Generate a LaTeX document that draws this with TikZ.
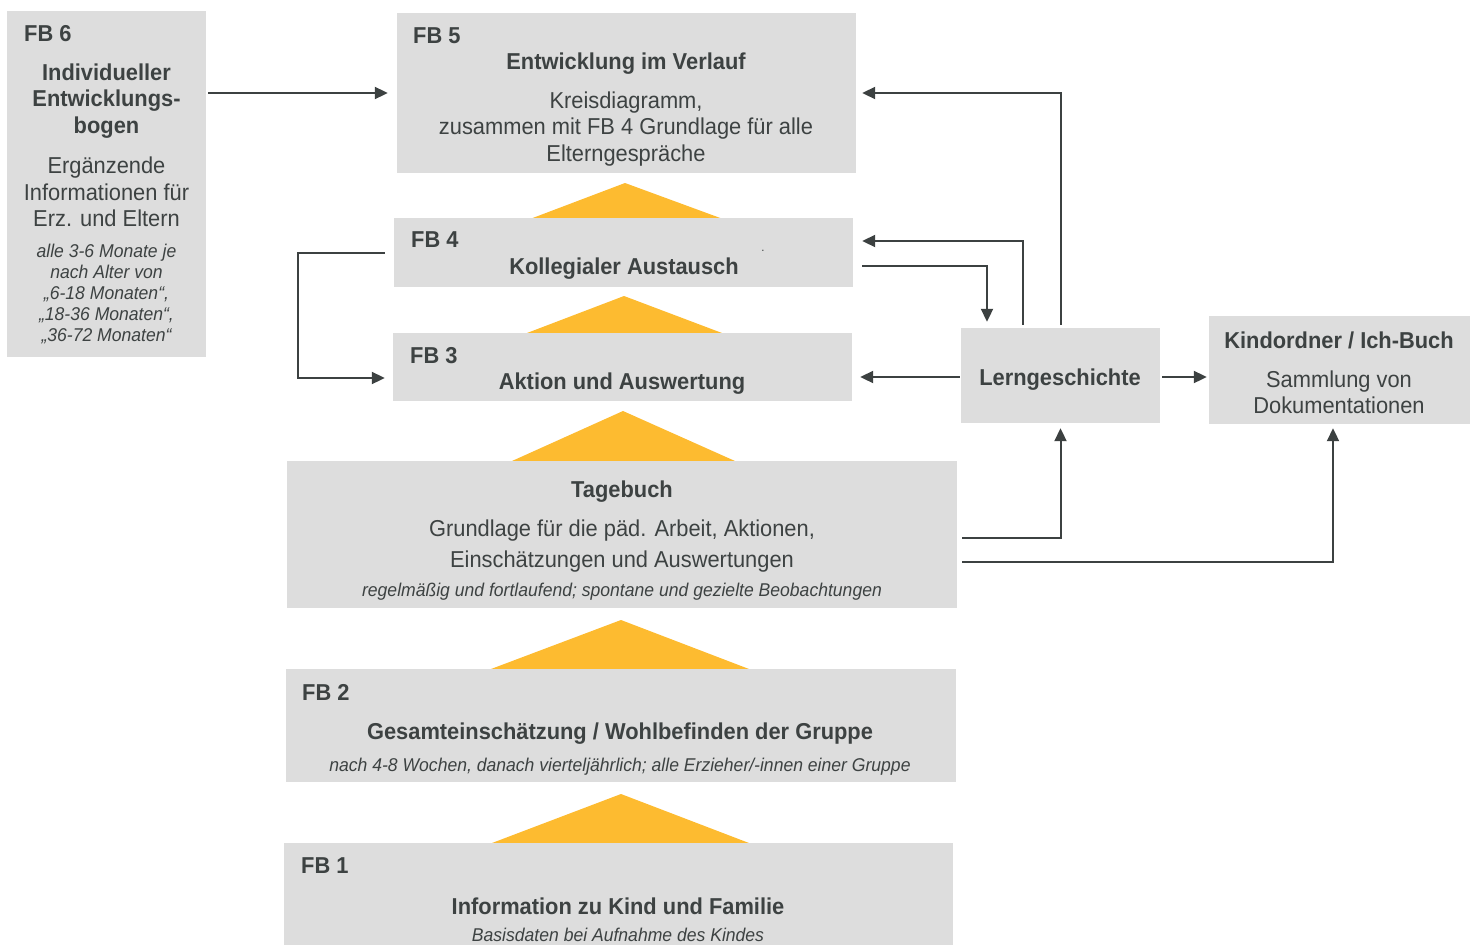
\documentclass[tikz,border=0pt]{standalone}
\usepackage{fontspec}
\setmainfont{Liberation Sans}[FakeStretch=0.95]
\usetikzlibrary{arrows.meta,backgrounds}
\pgfdeclarelayer{edgelayer}
\pgfdeclarelayer{nodelayer}
\pgfsetlayers{edgelayer,nodelayer,main}
\definecolor{boxgrey}{HTML}{DDDDDD}
\definecolor{txtgrey}{HTML}{3D4242}
\definecolor{linegrey}{HTML}{3C4141}
\definecolor{peakorange}{HTML}{FDBB30}
\tikzset{font=\fontsize{23}{27}\selectfont,text=txtgrey}
\tikzstyle{none}=[inner sep=0pt]
\tikzstyle{box}=[rectangle,fill=boxgrey,inner sep=0pt]
\tikzstyle{fb}=[anchor=west,inner sep=0pt,font=\fontsize{23}{27}\selectfont\bfseries]
\tikzstyle{head}=[align=center,inner sep=0pt,font=\fontsize{23}{26.5}\selectfont\bfseries]
\tikzstyle{body}=[align=center,inner sep=0pt,font=\fontsize{23}{26.5}\selectfont]
\tikzstyle{note}=[align=center,inner sep=0pt,font=\fontsize{18.5}{21}\selectfont\itshape]
\tikzstyle{peak}=[fill=peakorange]
\tikzstyle{arr}=[draw=linegrey,line width=2pt,-{Triangle[length=13pt,width=12pt]}]

\begin{document}
\begin{tikzpicture}[x=1pt,y=-1pt]
	\useasboundingbox (0,0) rectangle (1477,945);
	\begin{pgfonlayer}{nodelayer}
		\node [style=box,minimum width=199pt,minimum height=346pt] (fb6) at (106.5,184) {};
		\node [style=box,minimum width=459pt,minimum height=160pt] (fb5) at (626.5,93) {};
		\node [style=box,minimum width=459pt,minimum height=69pt] (fb4) at (623.5,252.5) {};
		\node [style=box,minimum width=459pt,minimum height=68pt] (fb3) at (622.5,367) {};
		\node [style=box,minimum width=670pt,minimum height=147pt] (tb) at (622,534.5) {};
		\node [style=box,minimum width=670pt,minimum height=113pt] (fb2) at (621,725.5) {};
		\node [style=box,minimum width=669pt,minimum height=102pt] (fb1) at (618.5,894) {};
		\node [style=box,minimum width=199pt,minimum height=95pt] (lg) at (1060.5,375.5) {};
		\node [style=box,minimum width=261pt,minimum height=108pt] (kind) at (1339.5,370) {};
	\end{pgfonlayer}
	\begin{pgfonlayer}{edgelayer}
		\fill[style=peak] (530,219) -- (625,183) -- (723,219) -- cycle;
		\fill[style=peak] (527,333) -- (624,296) -- (722,333) -- cycle;
		\fill[style=peak] (512,461) -- (623,411) -- (735,461) -- cycle;
		\fill[style=peak] (491,669) -- (621,620) -- (749,669) -- cycle;
		\fill[style=peak] (492,843) -- (621,794) -- (749,843) -- cycle;
		\coordinate (lgw) at ([yshift=-1.5pt]lg.west);
		\coordinate (lge) at ([yshift=-1.5pt]lg.east);
		\draw[style=arr,shorten <=2pt,shorten >=9pt] (fb6.east |- fb5.west) to (fb5.west);
		\draw[style=arr,shorten <=3pt,shorten >=6pt] (lg.north) |- (fb5.east);
		\draw[style=arr,shorten <=3pt,shorten >=9pt] ([xshift=-37.5pt]lg.north) |- ([yshift=11.5pt]fb4.east);
		\draw[style=arr,shorten <=9pt,shorten >=6pt] ([yshift=-13.5pt]fb4.east) -| ([xshift=-73.5pt]lg.north);
		\draw[style=arr,shorten <=1pt,shorten >=8pt] (lgw) to (lgw -| fb3.east);
		\draw[style=arr,shorten <=9pt,shorten >=8pt] (fb4.west) -- ++(-96,0) |- ([yshift=-11pt]fb3.west);
		\draw[style=arr,shorten <=2pt,shorten >=2pt] (lge) to (lge -| kind.west);
		\draw[style=arr,shorten <=5pt,shorten >=5pt] ([yshift=-3.5pt]tb.east) -| (lg.south);
		\draw[style=arr,shorten <=5pt,shorten >=4pt] ([yshift=-27.5pt]tb.east) -| ([xshift=-6.5pt]kind.south);
	\end{pgfonlayer}
	% texts
	\node [style=fb] (fb6n) at (24,34) {FB 6};
	\node [style=head] (fb6h) at (106.5,101) {Individueller\\Entwicklungs-\\bogen};
	\node [style=body] (fb6b) at (106.5,192) {Ergänzende\\Informationen für\\Erz. und Eltern};
	\node [style=note] (fb6i) at (106.5,294) {alle 3-6 Monate je\\nach Alter von\\„6-18 Monaten“,\\„18-36 Monaten“,\\„36-72 Monaten“};
	\node [style=fb] (fb5n) at (413,35.5) {FB 5};
	\node [style=head] (fb5h) at (626,63.5) {Entwicklung im Verlauf};
	\node [style=body] (fb5b) at (626,129) {Kreisdiagramm,\\zusammen mit FB 4 Grundlage für alle\\Elterngespräche};
	\node [style=fb] (fb4n) at (411,240) {FB 4};
	\node [style=head] (fb4h) at (624,268.5) {Kollegialer Austausch};
	\node [style=none,font=\fontsize{12}{12}\selectfont] (fb4d) at (763,251) {.};
	\node [style=fb] (fb3n) at (410,356) {FB 3};
	\node [style=head] (fb3h) at (622,383.5) {Aktion und Auswertung};
	\node [style=head] (tbh) at (622,491.5) {Tagebuch};
	\node [style=body,font=\fontsize{23}{31}\selectfont] (tbb) at (622,546) {Grundlage für die päd. Arbeit, Aktionen,\\Einschätzungen und Auswertungen};
	\node [style=note] (tbi) at (622,591.5) {regelmäßig und fortlaufend; spontane und gezielte Beobachtungen};
	\node [style=fb] (fb2n) at (302,692) {FB 2};
	\node [style=head] (fb2h) at (620,733.5) {Gesamteinschätzung / Wohlbefinden der Gruppe};
	\node [style=note] (fb2i) at (620,766.5) {nach 4-8 Wochen, danach vierteljährlich; alle Erzieher/-innen einer Gruppe};
	\node [style=fb] (fb1n) at (301,866) {FB 1};
	\node [style=head] (fb1h) at (618,906.5) {Information zu Kind und Familie};
	\node [style=note] (fb1i) at (618,934.5) {Basisdaten bei Aufnahme des Kindes};
	\node [style=head] (lgh) at (1060,379.5) {Lerngeschichte};
	\node [style=head] (kindh) at (1339,340.5) {Kindordner / Ich-Buch};
	\node [style=body] (kindb) at (1339,392.5) {Sammlung von\\Dokumentationen};
\end{tikzpicture}
\end{document}
